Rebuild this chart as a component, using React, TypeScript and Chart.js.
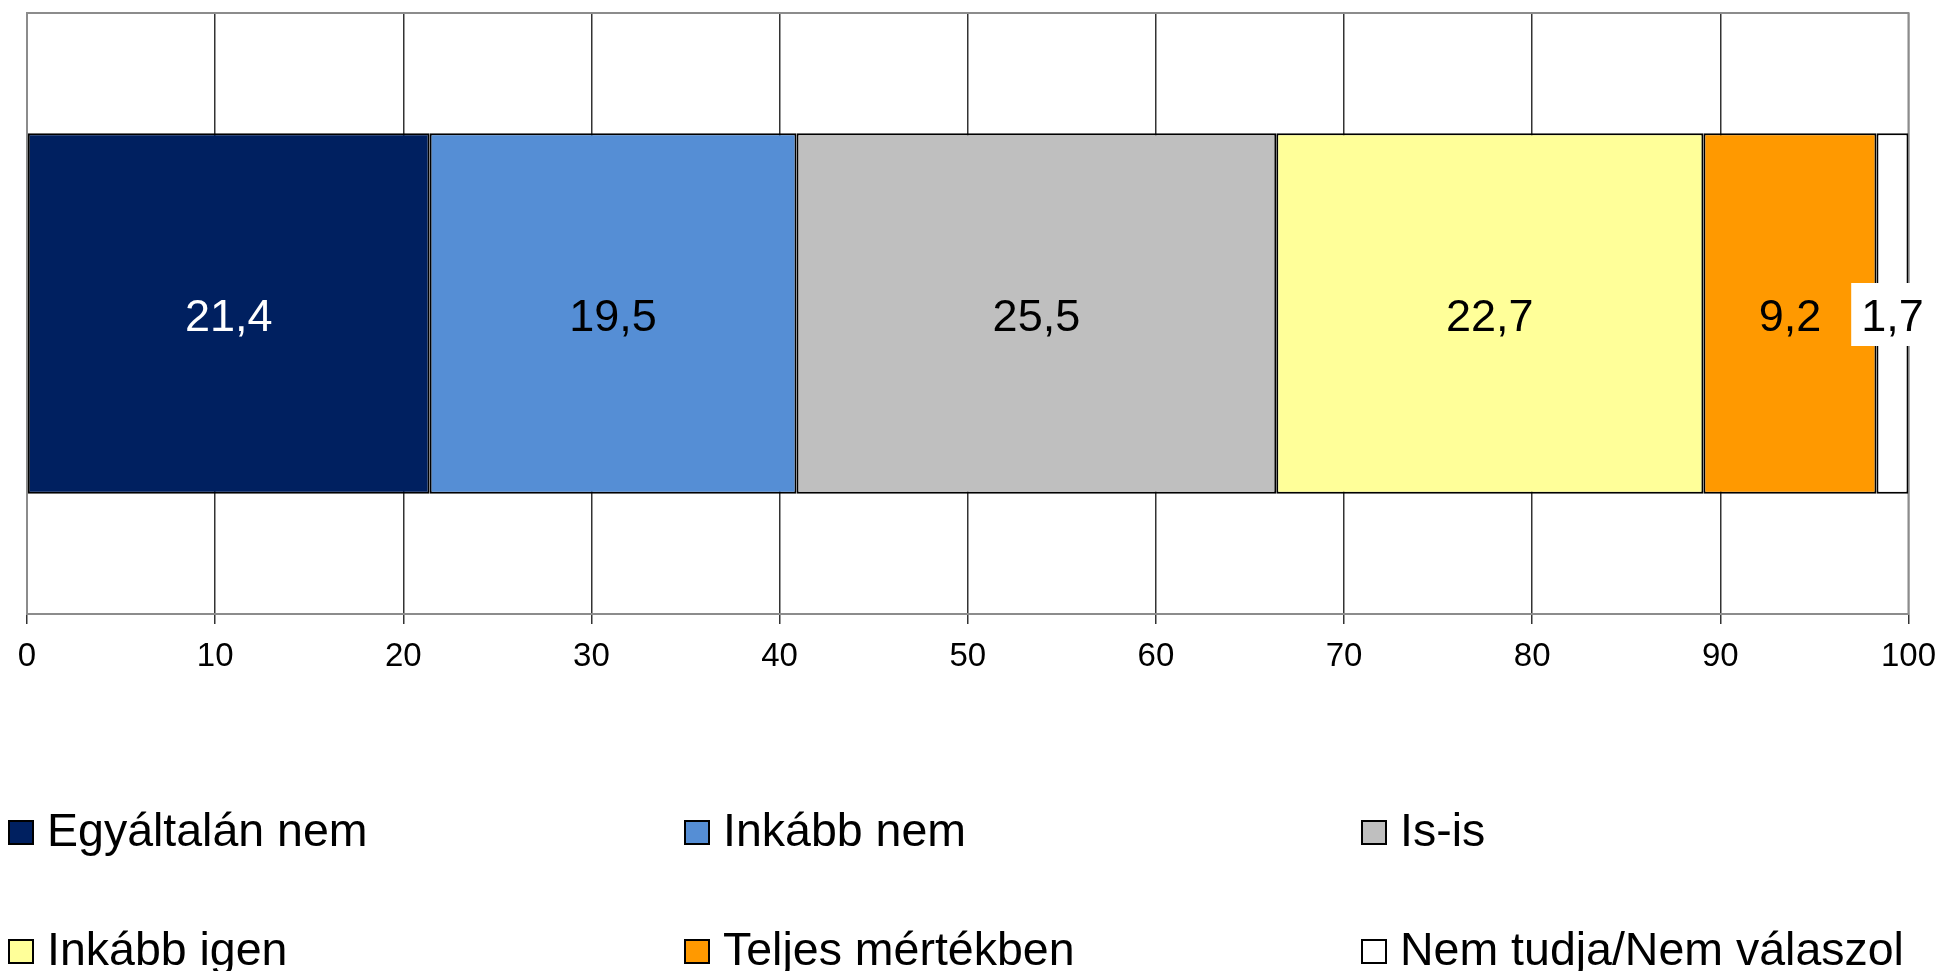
import React, { useEffect, useRef } from "react";
import { Chart, registerables } from "chart.js";

Chart.register(...registerables);

const categories = [""];
const seriesNames = [
  "Egyáltalán nem",
  "Inkább nem",
  "Is-is",
  "Inkább igen",
  "Teljes mértékben",
  "Nem tudja/Nem válaszol",
];
const seriesValues = [21.4, 19.5, 25.5, 22.7, 9.2, 1.7];
const seriesColors = ["#002060", "#558ED5", "#BFBFBF", "#FFFF99", "#FF9900", "#FFFFFF"];
const labelColors = ["#FFFFFF", "#000000", "#000000", "#000000", "#000000", "#000000"];
const xTicks = [0, 10, 20, 30, 40, 50, 60, 70, 80, 90, 100];

const FONT = "'Liberation Sans', Arial, sans-serif";

const plotBorderPlugin = {
  id: "plotBorder",
  beforeDatasetsDraw(chart: any) {
    const { ctx, chartArea } = chart;
    ctx.save();
    ctx.strokeStyle = "#8c8c8c";
    ctx.lineWidth = 2;
    ctx.strokeRect(chartArea.left, chartArea.top, chartArea.right - chartArea.left, chartArea.bottom - chartArea.top);
    ctx.restore();
  },
};

const dataLabelPlugin = {
  id: "dataLabels",
  afterDraw(chart: any) {
    const { ctx } = chart;
    ctx.save();
    const fs = 45;
    ctx.font = `${fs}px ${FONT}`;
    ctx.textAlign = "center";
    ctx.textBaseline = "alphabetic";
    chart.data.datasets.forEach((ds: any, i: number) => {
      const meta = chart.getDatasetMeta(i);
      meta.data.forEach((el: any, j: number) => {
        const v = ds.data[j];
        const cx = (el.x + el.base) / 2;
        const cy = el.y + 1.5;
        const txt = String(v).replace(".", ",");
        if (i === chart.data.datasets.length - 1) {
          const w = ctx.measureText(txt).width;
          ctx.fillStyle = "#FFFFFF";
          ctx.fillRect(cx - w / 2 - 10, cy - 32, w + 20, 63);
        }
        ctx.fillStyle = labelColors[i];
        ctx.fillText(txt, cx, cy + 0.716 * fs / 2);
      });
    });
    ctx.restore();
  },
};

const legendPlugin = {
  id: "customLegend",
  afterDraw(chart: any) {
    const { ctx } = chart;
    const colX = [8, 684, 1361];
    const rowBase = [846, 965];
    ctx.save();
    ctx.font = `46.5px ${FONT}`;
    ctx.textAlign = "left";
    ctx.textBaseline = "alphabetic";
    seriesNames.forEach((name, i) => {
      const x = colX[i % 3];
      const base = rowBase[Math.floor(i / 3)];
      ctx.fillStyle = seriesColors[i];
      ctx.fillRect(x, base - 26, 26, 25);
      ctx.strokeStyle = "#000000";
      ctx.lineWidth = 2;
      ctx.strokeRect(x + 1, base - 25, 24, 23);
      ctx.fillStyle = "#000000";
      ctx.fillText(name, x + 39, base);
    });
    ctx.restore();
  },
};

export default function App() {
  const ref = useRef<HTMLCanvasElement | null>(null);

  useEffect(() => {
    document.body.style.margin = "0";
    const canvas = ref.current;
    if (!canvas) return;
    const chart = new Chart(canvas, {
      type: "bar",
      data: {
        labels: categories,
        datasets: seriesNames.map((name, i) => ({
          label: name,
          data: [seriesValues[i]],
          backgroundColor: seriesColors[i],
          borderColor: "#000000",
          borderWidth: 2,
          borderSkipped: false,
          categoryPercentage: 1,
          barPercentage: 0.6,
        })),
      },
      options: {
        indexAxis: "y",
        responsive: false,
        animation: false,
        devicePixelRatio: 1,
        layout: { padding: { left: 27, right: 31, top: 13, bottom: 297 } },
        plugins: {
          legend: { display: false },
          tooltip: { enabled: false },
        },
        scales: {
          x: {
            stacked: true,
            min: 0,
            max: 100,
            afterBuildTicks: (scale: any) => {
              scale.ticks = xTicks.map((v) => ({ value: v }));
            },
            afterFit: (scale: any) => {
              scale.height = 60;
            },
            grid: {
              color: (ctx: any) =>
                ctx.tick && (ctx.tick.value === 0 || ctx.tick.value === 100) ? "#8c8c8c" : "#333333",
              tickColor: "#333333",
              lineWidth: 1.5,
              tickLength: 10,
            },
            border: { display: true, color: "#8c8c8c", width: 2 },
            ticks: {
              color: "#000000",
              font: { family: FONT, size: 33, lineHeight: 1.78 },
              padding: 4,
              maxRotation: 0,
              autoSkip: false,
            },
          },
          y: {
            stacked: true,
            display: false,
          },
        },
      },
      plugins: [plotBorderPlugin, dataLabelPlugin, legendPlugin],
    });
    return () => chart.destroy();
  }, []);

  return (
    <div style={{ width: 1940, height: 971 }}>
      <canvas ref={ref} width={1940} height={971} style={{ display: "block" }} />
    </div>
  );
}
